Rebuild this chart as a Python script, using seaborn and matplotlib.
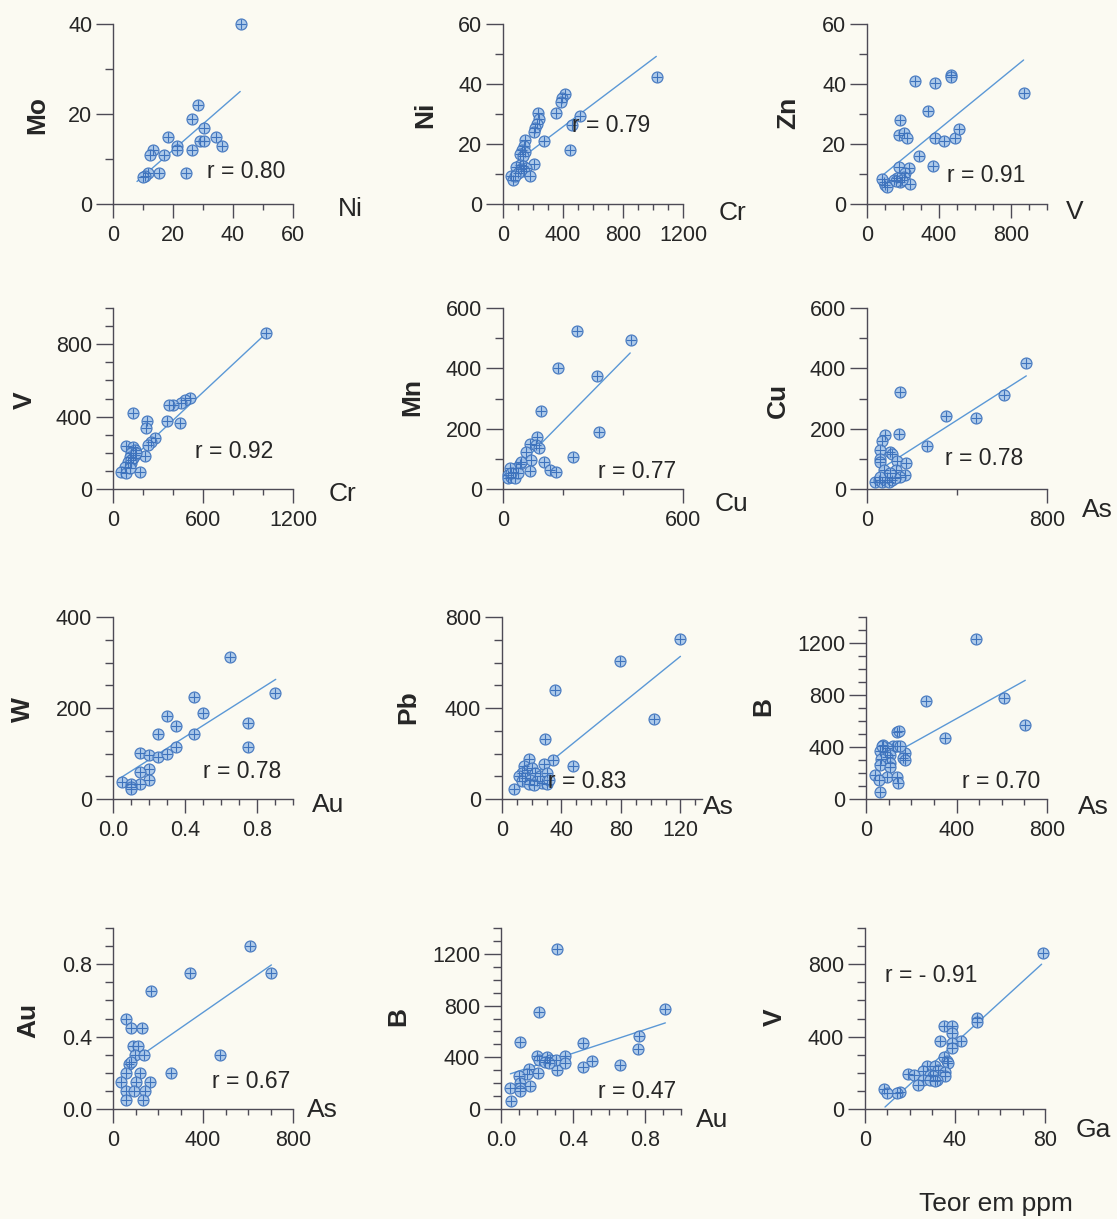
import numpy as np
import pandas as pd
import matplotlib
matplotlib.use("Agg")
import matplotlib.pyplot as plt
import seaborn as sns

# ---------------------------------------------------------------- data (ppm)
# Mo vs Ni
ni_mo_x = [42.5, 28.4, 26.2, 30.3, 18.3, 34.4, 28.9, 30.2, 36.4, 21.4, 21.4, 26.2,
           13.3, 12.2, 16.9, 24.4, 15.2, 11.7, 10.6, 10.0]
ni_mo_y = [40, 22, 19, 17, 15, 15, 14, 14, 13, 13, 12, 12, 12, 11, 11, 7, 7, 7, 6.2, 6]
ni_mo_fit_x = [8, 42.4]
ni_mo_fit_y = [5, 25]

# Ni vs Cr
cr_ni_x = [1027, 416, 396, 384, 356, 511, 458, 236, 240, 227, 211, 207, 271, 444, 149,
           138, 127, 149, 111, 133, 207, 111, 133, 89, 156, 122, 138, 100, 178, 51, 67, 78]
cr_ni_y = [42.3, 36.8, 35.2, 34, 30.4, 29.3, 26.5, 30.4, 28.4, 26.8, 25.4, 24, 20.9, 17.9,
           21.5, 19.4, 17.9, 17.2, 16.8, 16.1, 13.3, 13.1, 12.8, 12.5, 12, 11.6, 11.1, 10.3,
           9.2, 9.2, 8, 9.4]
cr_ni_fit_x = [149, 1022]
cr_ni_fit_y = [16.3, 49.2]

# Zn vs V
v_zn_x = [870, 469, 469, 265, 380, 339, 185, 180, 207, 222, 376, 430, 491, 509, 287, 367,
          180, 235, 213, 204, 167, 148, 185, 237, 93, 102, 111, 83, 194, 163]
v_zn_y = [36.9, 43, 42.2, 41.1, 40.2, 31, 28, 23, 23.6, 21.9, 22.1, 21, 22.1, 25, 16.1, 12.8,
          12.4, 11.9, 10.2, 9.1, 8.6, 8, 7.4, 6.7, 7.4, 6.3, 5.8, 8.2, 8, 7.8]
v_zn_fit_x = [89, 870]
v_zn_fit_y = [9.7, 48]

# V vs Cr
cr_v_x = [1022, 511, 478, 456, 400, 373, 444, 362, 133, 229, 222, 278, 256, 233, 216, 178,
          84, 133, 144, 122, 144, 111, 133, 100, 122, 78, 56, 89, 122, 156, 111]
cr_v_y = [861, 501, 492, 474, 464, 464, 363, 376, 422, 376, 335, 284, 262, 243, 184, 96,
          238, 234, 216, 197, 188, 179, 170, 151, 142, 124, 96, 90, 160, 197, 114]
cr_v_fit_x = [33, 1022]
cr_v_fit_y = [96, 861]

# Mn vs Cu
cu_mn_x = [247, 428, 183, 314, 126, 320, 113, 89, 111, 119, 78, 94, 233, 136, 56, 61, 91,
           158, 178, 44, 33, 22, 17, 17, 28, 39, 50, 28]
cu_mn_y = [525, 493, 401, 375, 260, 190, 174, 150, 147, 135, 121, 96, 107, 89, 83, 91, 61,
           63, 58, 69, 58, 69, 47, 35, 41, 35, 52, 52]
cu_mn_fit_x = [17, 424]
cu_mn_fit_y = [40, 451]

# Cu vs As
as_cu_x = [708, 610, 484, 353, 267, 148, 142, 81, 67, 104, 111, 59, 133, 175, 59, 59, 74,
           130, 170, 148, 37, 52, 67, 81, 96, 111, 126, 89, 59, 104]
as_cu_y = [419, 311, 235, 243, 143, 320, 183, 178, 159, 123, 117, 128, 92, 87, 101, 90, 62,
           62, 46, 41, 24, 30, 24, 30, 24, 30, 35, 41, 41, 52]
as_cu_fit_x = [60, 708]
as_cu_fit_y = [66, 375]

# W vs Au
au_w_x = [0.65, 0.9, 0.45, 0.5, 0.3, 0.35, 0.75, 0.25, 0.45, 0.75, 0.35, 0.15, 0.2, 0.25,
          0.3, 0.2, 0.15, 0.2, 0.15, 0.05, 0.1, 0.1, 0.1]
au_w_y = [312, 233, 224, 189, 183, 161, 168, 142, 142, 115, 115, 101, 97, 93, 99, 66, 60,
          42, 32, 38, 34, 27, 21]
au_w_fit_x = [0.04, 0.904]
au_w_fit_y = [46, 263]

# Pb vs As
as_pb_x = [120, 79.6, 35.4, 102, 29.2, 34.1, 47.6, 28.5, 17.9, 7.9, 14.6, 16.8, 20.2, 22.4,
           13.5, 11.2, 15.7, 19.1, 23.6, 26.9, 30.3, 25.8, 30.3, 13.5, 17.9, 21.3, 31.4]
as_pb_y = [704, 608, 478, 350, 264, 173, 143, 155, 176, 44, 143, 128, 136, 114, 114, 99, 92,
           84, 77, 69, 66, 99, 114, 77, 66, 62, 84]
as_pb_fit_x = [8, 120]
as_pb_fit_y = [34, 627]

# B vs As
as_b_x = [486, 608, 266, 704, 347, 139, 148, 77, 121, 136, 92, 62, 84, 173, 165, 173, 106,
          92, 66, 106, 62, 106, 40, 92, 136, 59, 140, 62, 69, 150]
as_b_y = [1234, 776, 751, 571, 473, 519, 524, 416, 409, 404, 391, 370, 365, 352, 314, 301,
          339, 326, 306, 280, 262, 249, 185, 172, 172, 147, 121, 57, 404, 404]
as_b_fit_x = [40, 704]
as_b_fit_y = [269, 913]

# Au vs As
as_au_x = [607, 344, 704, 167, 59, 79, 130, 89, 111, 96, 138, 474, 71, 81, 119, 259, 56, 37,
           104, 166, 56, 93, 141, 56, 133]
as_au_y = [0.9, 0.75, 0.75, 0.65, 0.5, 0.45, 0.45, 0.35, 0.35, 0.3, 0.3, 0.3, 0.25, 0.26,
           0.2, 0.2, 0.2, 0.15, 0.15, 0.15, 0.1, 0.1, 0.1, 0.05, 0.05]
as_au_fit_x = [60, 704]
as_au_fit_y = [0.24, 0.796]

# B vs Au
au_b_x = [0.31, 0.21, 0.91, 0.765, 0.76, 0.104, 0.456, 0.506, 0.659, 0.456, 0.311, 0.2,
          0.209, 0.256, 0.246, 0.274, 0.306, 0.357, 0.357, 0.265, 0.154, 0.204, 0.144, 0.098,
          0.107, 0.159, 0.052, 0.104, 0.104, 0.056]
au_b_y = [1240, 747, 774, 565, 467, 522, 511, 375, 340, 321, 299, 408, 380, 402, 367, 380,
          380, 408, 353, 353, 312, 277, 272, 258, 204, 177, 163, 163, 141, 60]
au_b_fit_x = [0.052, 0.913]
au_b_fit_y = [272, 666]

# V vs Ga
ga_v_x = [79, 49.6, 49.6, 35.3, 38.8, 38.8, 33.3, 42.7, 38.5, 38.5, 35.3, 36.3, 37, 27.4,
          31.1, 32.6, 25.9, 35.6, 19.3, 21.8, 28.9, 30.1, 35.6, 25.9, 28.9, 31.9, 31.1, 23.7,
          15.6, 14.1, 8.6, 9.6]
ga_v_y = [860, 502, 483, 460, 460, 419, 373, 373, 364, 336, 285, 263, 254, 239, 235, 217,
          208, 204, 193, 186, 189, 180, 180, 162, 158, 158, 153, 134, 92, 88, 112, 88]
ga_v_fit_x = [8.9, 78.5]
ga_v_fit_y = [11, 800]

r_labels = ["r = 0.80", "r = 0.79", "r = 0.91", "r = 0.92", "r = 0.77", "r = 0.78",
            "r = 0.78", "r = 0.83", "r = 0.70", "r = 0.67", "r = 0.47", "r = - 0.91"]

# ---------------------------------------------------------------- style
PAPER = "#fbfaf2"
FILL = "#a7c6ea"
EDGE = "#3e73bd"
LINE = "#5b98d6"
AXC = "#4d4a55"
TXT = "#262626"

sns.set_theme(style="ticks")
plt.rcParams["font.family"] = ["Liberation Sans", "DejaVu Sans"]

W, H = 1117, 1219
fig = plt.figure(figsize=(W / 100, H / 100), dpi=100, facecolor=PAPER)


def ftext(px, py, s, **kw):
    fig.text(px / W, 1 - py / H, s, color=TXT, **kw)


def frange(a, b, step):
    return list(np.round(np.arange(a, b + step / 2, step), 6))


def lab(vals, fmt="{:g}"):
    return [fmt.format(v) for v in vals]


def panel(box, x, y, fx, fy, xlim, ylim, xmaj, xminor, ymaj, yminor,
          xlab, ylab, xname, xname_pos, yname, yname_pos, rtxt, rpos):
    left, top, width, height = box
    ax = fig.add_axes([left / W, 1 - (top + height) / H, width / W, height / H])
    ax.set_facecolor("none")
    df = pd.DataFrame({"x": x, "y": y})
    fit = pd.DataFrame({"x": fx, "y": fy})
    sns.lineplot(data=fit, x="x", y="y", ax=ax, color=LINE, linewidth=1.0, zorder=2)
    sns.scatterplot(data=df, x="x", y="y", ax=ax, marker="o", s=62, color=FILL,
                    edgecolor=EDGE, linewidth=0.9, clip_on=False, zorder=3, alpha=0.9)
    sns.scatterplot(data=df, x="x", y="y", ax=ax, marker="+", s=55, color=EDGE,
                    linewidth=0.8, clip_on=False, zorder=4)
    ax.set_xlim(*xlim)
    ax.set_ylim(*ylim)
    ax.set_xlabel("")
    ax.set_ylabel("")
    sns.despine(ax=ax)
    for side in ("left", "bottom"):
        ax.spines[side].set_color(AXC)
        ax.spines[side].set_linewidth(1.0)
    ax.set_xticks(xmaj)
    ax.set_xticklabels(xlab)
    ax.set_xticks(xminor, minor=True)
    ax.set_yticks(ymaj)
    ax.set_yticklabels(ylab)
    ax.set_yticks(yminor, minor=True)
    ax.tick_params(axis="x", which="major", length=10, width=1.0, color=AXC, pad=5,
                   labelsize=15.5, labelcolor=TXT)
    ax.tick_params(axis="x", which="minor", length=4.5, width=1.0, color=AXC)
    ax.tick_params(axis="y", which="major", length=12, width=1.0, color=AXC, pad=3,
                   labelsize=15.5, labelcolor=TXT)
    ax.tick_params(axis="y", which="minor", length=6, width=1.0, color=AXC)
    ftext(*xname_pos, xname, fontsize=19, ha="center", va="center")
    ftext(*yname_pos, yname, fontsize=19, fontweight="bold", rotation=90,
          ha="center", va="center")
    ftext(*rpos, rtxt, fontsize=16.5, ha="left", va="center")
    return ax


# panel boxes in pixels: (left, top, width, height)
# row 1
panel((113, 24, 180, 180),
      ni_mo_x, ni_mo_y, ni_mo_fit_x, ni_mo_fit_y, (0, 60), (0, 40),
      [0, 20, 40, 60], [10, 30, 50], [0, 20, 40], [10, 30],
      lab([0, 20, 40, 60]), lab([0, 20, 40]),
      "Ni", (350, 209), "Mo", (37, 115), r_labels[0], (207, 172))
panel((503, 24, 180, 180),
      cr_ni_x, cr_ni_y, cr_ni_fit_x, cr_ni_fit_y, (0, 1200), (0, 60),
      [0, 400, 800, 1200], frange(100, 1100, 100), [0, 20, 40, 60], [10, 30, 50],
      lab([0, 400, 800, 1200]), lab([0, 20, 40, 60]),
      "Cr", (733, 213), "Ni", (425, 115), r_labels[1], (572, 125))
panel((867, 24, 180, 180),
      v_zn_x, v_zn_y, v_zn_fit_x, v_zn_fit_y, (0, 1000), (0, 60),
      [0, 400, 800], frange(100, 1000, 100), [0, 20, 40, 60], [10, 30, 50],
      lab([0, 400, 800]), lab([0, 20, 40, 60]),
      "V", (1075, 212), "Zn", (788, 113), r_labels[2], (947, 175))

# row 2
panel((113, 308, 180, 181),
      cr_v_x, cr_v_y, cr_v_fit_x, cr_v_fit_y, (0, 1200), (0, 1000),
      [0, 600, 1200], [200, 400, 800, 1000], [0, 400, 800], frange(100, 1000, 100),
      lab([0, 600, 1200]), lab([0, 400, 800]),
      "Cr", (343, 494), "V", (25, 400), r_labels[3], (195, 452))
panel((503, 308, 180, 181),
      cu_mn_x, cu_mn_y, cu_mn_fit_x, cu_mn_fit_y, (0, 600), (0, 600),
      [0, 600], [200, 400], [0, 200, 400, 600], [100, 300, 500],
      lab([0, 600]), lab([0, 200, 400, 600]),
      "Cu", (731, 504), "Mn", (412, 397), r_labels[4], (598, 472))
panel((867, 308, 180, 181),
      as_cu_x, as_cu_y, as_cu_fit_x, as_cu_fit_y, (0, 800), (0, 600),
      [0, 800], [400], [0, 200, 400, 600], [100, 300, 500],
      lab([0, 800]), lab([0, 200, 400, 600]),
      "As", (1097, 510), "Cu", (778, 400), r_labels[5], (945, 458))

# row 3
panel((113, 617, 180, 182),
      au_w_x, au_w_y, au_w_fit_x, au_w_fit_y, (0, 1.0), (0, 400),
      [0, 0.4, 0.8], frange(0.1, 1.0, 0.1), [0, 200, 400], [50, 100, 150, 250, 300, 350],
      lab([0, 0.4, 0.8], "{:.1f}"), lab([0, 200, 400]),
      "Au", (328, 805), "W", (23, 710), r_labels[6], (203, 772))
panel((502, 617, 200, 182),
      as_pb_x, as_pb_y, as_pb_fit_x, as_pb_fit_y, (0, 134.5), (0, 800),
      [0, 40, 80, 120], frange(10, 130, 10), [0, 400, 800], frange(100, 700, 100),
      lab([0, 40, 80, 120]), lab([0, 400, 800]),
      "As", (718, 807), "Pb", (408, 707), r_labels[7], (548, 782))
panel((866, 617, 181, 182),
      as_b_x, as_b_y, as_b_fit_x, as_b_fit_y, (0, 800), (0, 1400),
      [0, 400, 800], frange(100, 700, 100), [0, 400, 800, 1200], frange(100, 1400, 100),
      lab([0, 400, 800]), lab([0, 400, 800, 1200]),
      "As", (1093, 807), "B", (763, 707), r_labels[8], (962, 782))

# row 4
panel((113, 928, 180, 181),
      as_au_x, as_au_y, as_au_fit_x, as_au_fit_y, (0, 800), (0, 1.0),
      [0, 400, 800], frange(100, 700, 100), [0, 0.4, 0.8], frange(0.1, 1.0, 0.1),
      lab([0, 400, 800]), lab([0, 0.4, 0.8], "{:.1f}"),
      "As", (322, 1110), "Au", (28, 1020), r_labels[9], (212, 1082))
panel((501, 928, 180, 181),
      au_b_x, au_b_y, au_b_fit_x, au_b_fit_y, (0, 1.0), (0, 1400),
      [0, 0.4, 0.8], frange(0.1, 1.0, 0.1), [0, 400, 800, 1200], frange(100, 1400, 100),
      lab([0, 0.4, 0.8], "{:.1f}"), lab([0, 400, 800, 1200]),
      "Au", (712, 1120), "B", (398, 1017), r_labels[10], (598, 1092))
panel((865, 928, 180, 181),
      ga_v_x, ga_v_y, ga_v_fit_x, ga_v_fit_y, (0, 80), (0, 1000),
      [0, 40, 80], frange(10, 70, 10), [0, 400, 800], frange(100, 1000, 100),
      lab([0, 40, 80]), lab([0, 400, 800]),
      "Ga", (1093, 1130), "V", (775, 1017), r_labels[11], (885, 975))

ftext(996, 1204, "Teor em ppm", fontsize=19, ha="center", va="center")

fig.savefig("out.png", dpi=100, facecolor=PAPER)
